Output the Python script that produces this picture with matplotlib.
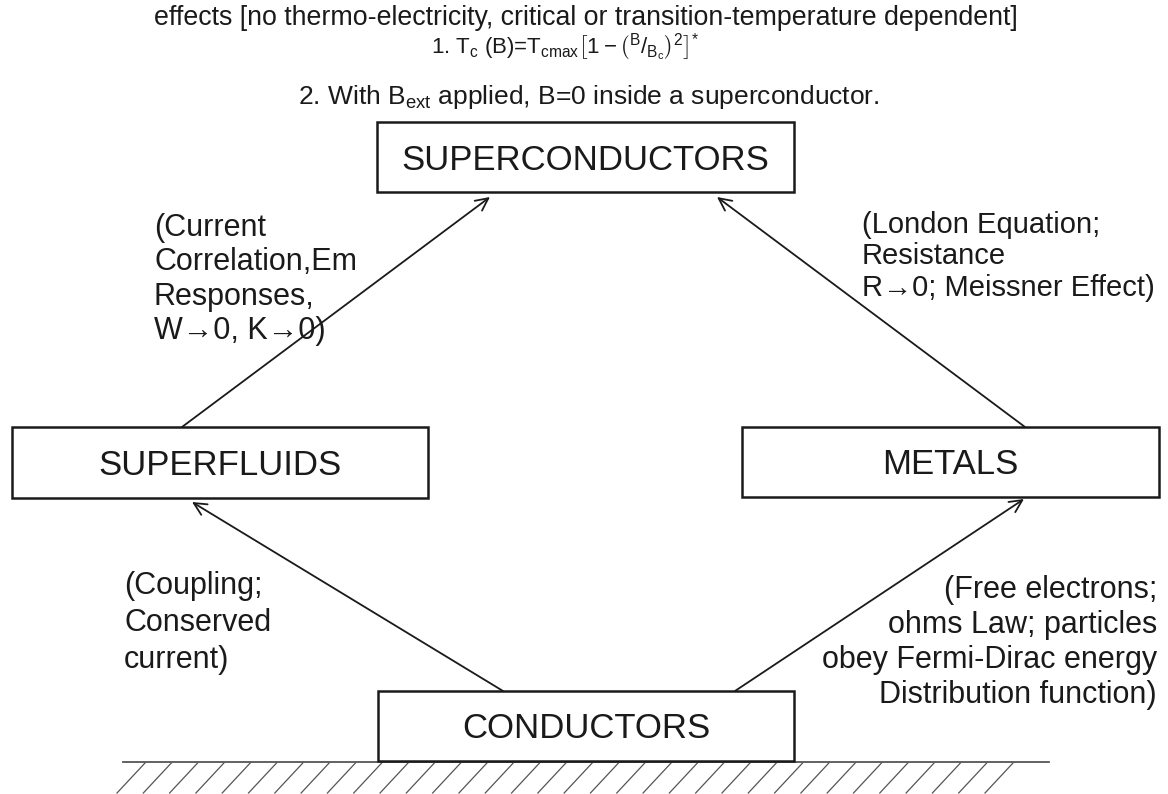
"""
超导体概念图：导体 -> 超流体 / 金属 -> 超导体
"""

import numpy as np
import matplotlib
matplotlib.use("Agg")
import matplotlib.pyplot as plt
from matplotlib.patches import Rectangle

plt.rcParams["font.family"] = ["Liberation Sans", "DejaVu Sans"]
plt.rcParams["mathtext.fontset"] = "custom"
plt.rcParams["mathtext.rm"] = "Liberation Sans"
plt.rcParams["mathtext.it"] = "Liberation Sans"

INK = "#1a1a1a"

# ---------------------------------------------------------------------------
# 文本内容
# ---------------------------------------------------------------------------
header_lines = [
    "effects [no thermo-electricity, critical or transition-temperature dependent]",
    r"1. T$_\mathrm{c}$ (B)=T$_\mathrm{cmax}$$\left[1-\left(^{B}/_{B_c}\right)^{2}\right]^{*}$",
    r"2. With B$_\mathrm{ext}$ applied, B=0 inside a superconductor.",
]

node_names = ["SUPERCONDUCTORS", "SUPERFLUIDS", "METALS", "CONDUCTORS"]

label_upper_left = ["(Current", "Correlation,Em", "Responses,", "W\u21920, K\u21920)"]
label_upper_right = ["(London Equation;", "Resistance", "R\u21920; Meissner Effect)"]
label_lower_left = ["(Coupling;", "Conserved", "current)"]
label_lower_right = ["(Free electrons;", "ohms Law; particles",
                     "obey Fermi-Dirac energy", "Distribution function)"]

# ---------------------------------------------------------------------------
# 版面（像素坐标，y 向下）
# ---------------------------------------------------------------------------
W, H = 1168, 794
boxes = {                      # x0, y0, x1, y1
    "SUPERCONDUCTORS": (377, 122, 794, 192),
    "SUPERFLUIDS": (12, 427, 428, 498),
    "METALS": (742, 427, 1159, 497),
    "CONDUCTORS": (378, 691, 794, 761),
}
arrows = [                     # 起点 -> 箭头尖
    ((182, 427), (490, 197)),
    ((1025, 427), (717, 197)),
    ((503, 691), (192, 502)),
    ((735, 691), (1024, 499)),
]

fig = plt.figure(figsize=(W / 100, H / 100), dpi=100)
ax = fig.add_axes([0, 0, 1, 1])
ax.set_xlim(0, W)
ax.set_ylim(H, 0)
ax.axis("off")

# 顶部说明文字
ax.text(586, 25, header_lines[0], fontsize=19.3, ha="center", va="baseline", color=INK)
ax.text(565, 54, header_lines[1], fontsize=16, ha="center", va="baseline", color=INK)
ax.text(589, 104, header_lines[2], fontsize=19, ha="center", va="baseline", color=INK)

# 方框
for name in node_names:
    x0, y0, x1, y1 = boxes[name]
    ax.add_patch(Rectangle((x0, y0), x1 - x0, y1 - y0, facecolor="white",
                           edgecolor=INK, lw=1.8, zorder=3))
    ax.text((x0 + x1) / 2, (y0 + y1) / 2 + 12.5, name, fontsize=25,
            ha="center", va="baseline", color=INK, zorder=4)

# 箭头
for start, tip in arrows:
    ax.annotate("", xy=tip, xytext=start,
                arrowprops=dict(arrowstyle="->,head_length=0.45,head_width=0.22",
                                lw=1.3, color=INK, shrinkA=0, shrinkB=0,
                                mutation_scale=20))


def draw_label(lines, x, y_first, step, ha="left", size=22):
    for i, line in enumerate(lines):
        ax.text(x, y_first + i * step + 11, line, fontsize=size, ha=ha,
                va="baseline", color=INK)


draw_label(label_upper_left, 154, 225, 34.3)
draw_label(label_upper_right, 862, 222, 31.5, size=21)
draw_label(label_lower_left, 124, 583, 37)
draw_label(label_lower_right, 1157, 587, 35, ha="right")

# 地面与斜线
ax.plot([123, 1049], [762, 762], color="#555555", lw=1.3, zorder=2)
for hx in np.linspace(145, 1013, 34):
    ax.plot([hx, hx - 28], [763, 793], color="#555555", lw=0.9, zorder=1)

fig.savefig("out.png", dpi=100)
